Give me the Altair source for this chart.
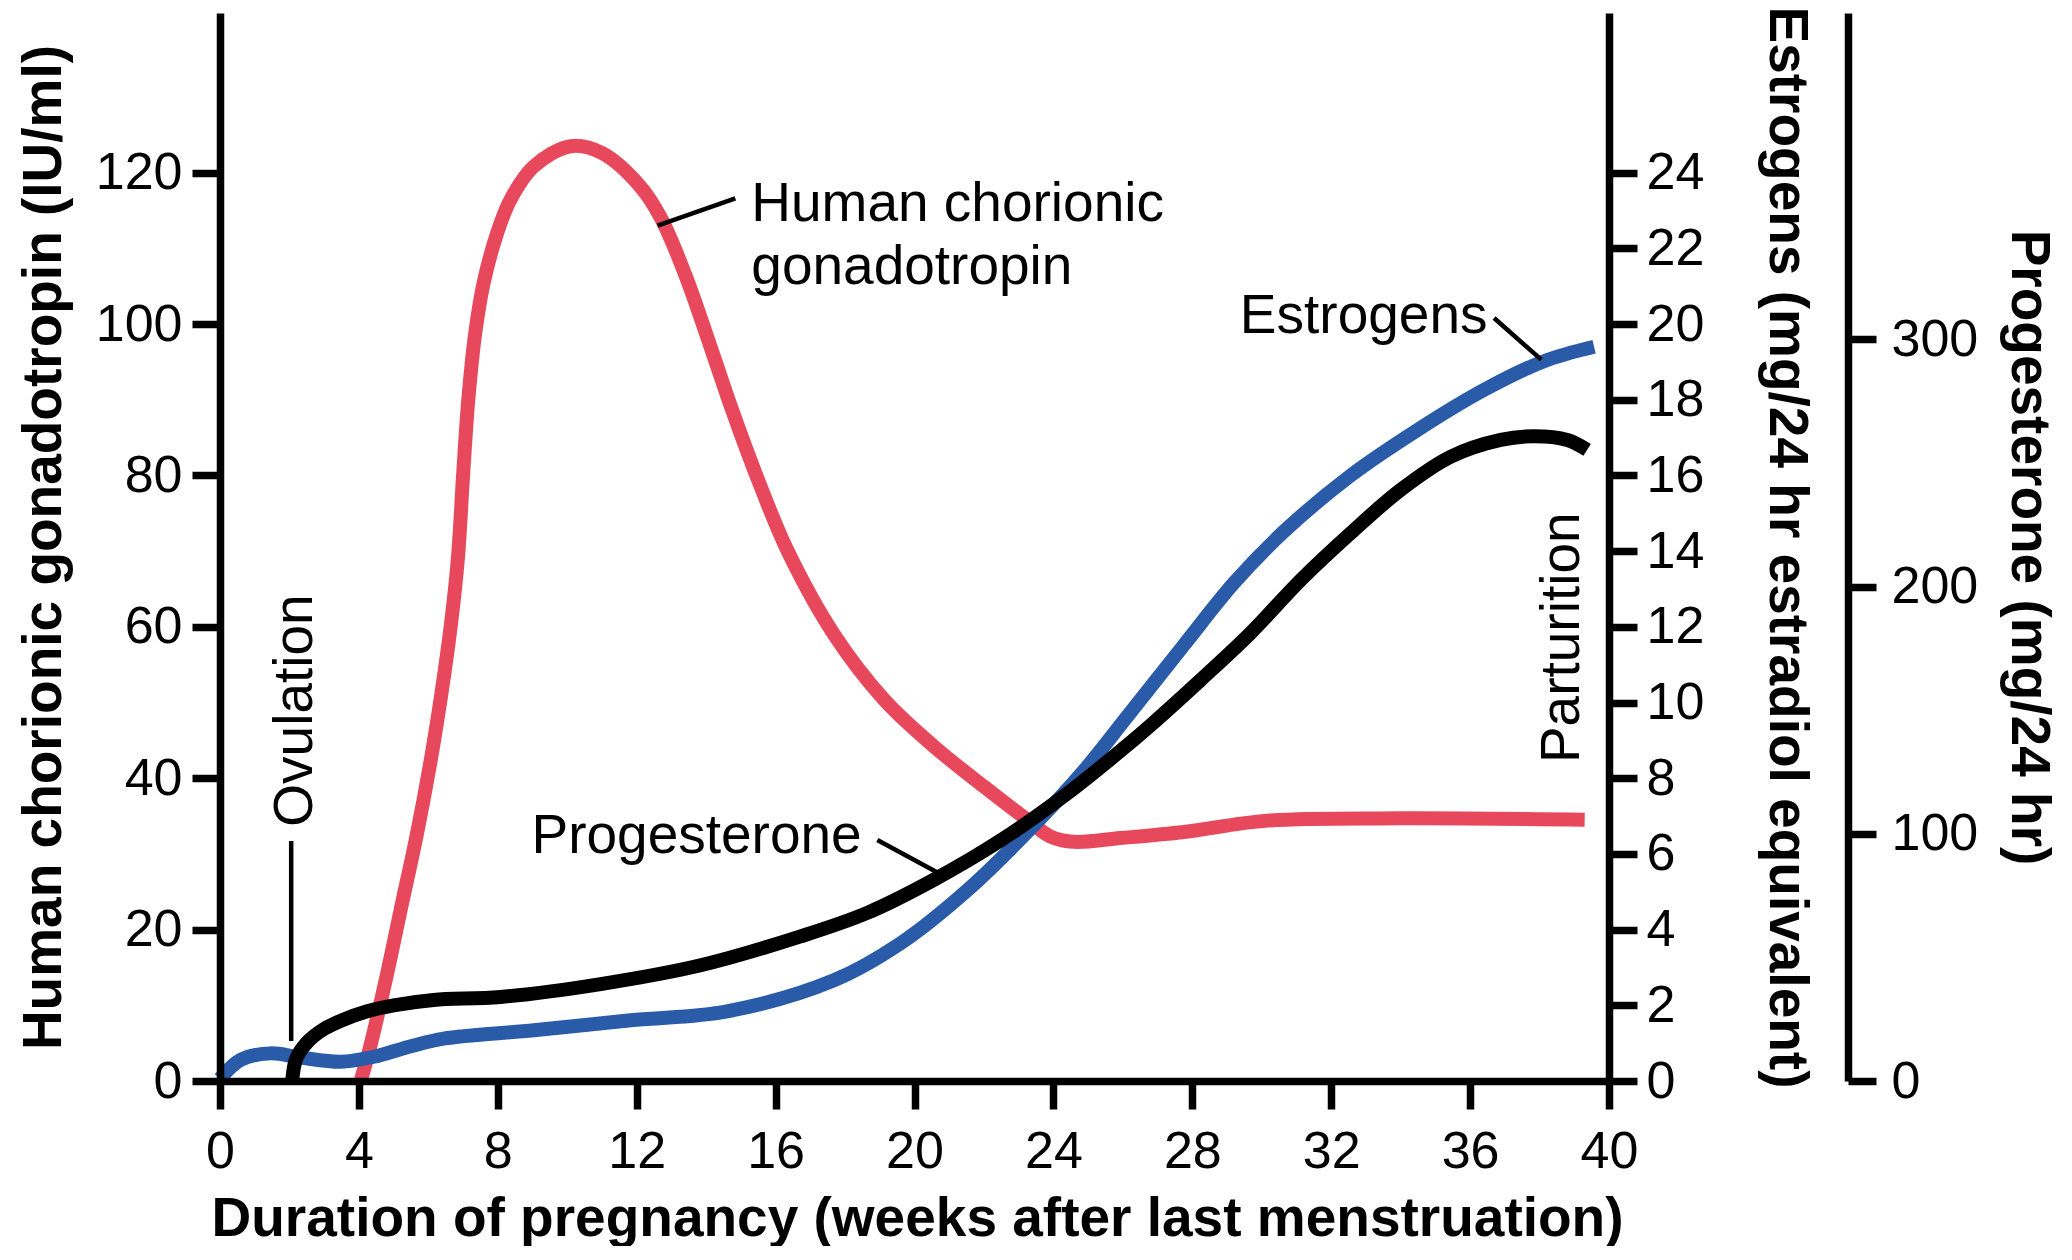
import altair as alt
import pandas as pd

# ---------------- data ----------------
# Human chorionic gonadotropin, IU/ml
hcg_weeks = [4.05, 4.3, 4.78, 5.22, 5.66, 6.05, 6.38, 6.66, 6.85, 7.0, 7.15, 7.35, 7.59,
             7.98, 8.36, 9.03, 10.1, 11.0, 12.1, 12.7, 13.4, 14.2, 14.76, 15.53, 16.35,
             17.68, 19.12, 20.56, 22.0, 23.25, 23.92, 24.59, 25.93, 27.76, 30.16, 34.0, 39.3]
hcg_values = [0, 4.1, 13.5, 23.0, 32.4, 41.9, 51.3, 60.7, 69, 80, 90, 98.8, 105.4,
              112, 116.4, 120.8, 123.5, 122.6, 118.2, 114.0, 106.5, 96.0, 88.5, 79.0, 70.0,
              59.0, 50.4, 44.2, 38.9, 34.5, 32.3, 31.6, 32.1, 32.9, 34.4, 34.7, 34.5]

# Estrogens, mg/24 hr estradiol equivalent
est_weeks = [0, 0.6, 1.45, 2.32, 3.47, 4.43, 5.5, 6.44, 9.04, 11.9, 14.6, 17.68, 19.6,
             21.52, 23.44, 24.88, 26.1, 27.76, 29.2, 30.64, 32.56, 34.48, 36.4, 38.13, 39.57]
est_values = [0.06, 0.56, 0.73, 0.62, 0.51, 0.64, 0.92, 1.12, 1.34, 1.61, 1.84, 2.66, 3.64,
              5.04, 6.76, 8.2, 9.6, 11.52, 13.16, 14.52, 16.0, 17.2, 18.26, 19.02, 19.4]

# Progesterone, mg/24 hr
prog_weeks = [2.08, 2.2, 2.55, 3.0, 3.5, 4.24, 5.0, 6.15, 8.08, 10.96, 13.84, 16.72, 18.64,
              20.56, 22.48, 24.4, 25.93, 26.8, 28.24, 29.68, 31.12, 32.56, 34.0, 35.44,
              36.88, 37.84, 38.8, 39.37]
prog_values = [0, 9.2, 16.2, 21.1, 24.5, 28.2, 30.6, 32.8, 34.0, 39.2, 46.8, 58.5, 68.0,
               81.4, 97.3, 116.3, 133.5, 143.9, 162.2, 181.2, 202.6, 221.6, 239.1, 252.5,
               259.3, 260.8, 259.3, 255.3]

week_ticks = [0, 4, 8, 12, 16, 20, 24, 28, 32, 36, 40]
hcg_ticks = [0, 20, 40, 60, 80, 100, 120]
est_ticks = [0, 2, 4, 6, 8, 10, 12, 14, 16, 18, 20, 22, 24]
prog_ticks = [0, 100, 200, 300]

# annotations (in weeks / IU/ml units)
label_text = ["Human chorionic", "gonadotropin", "Estrogens", "Progesterone"]
label_week = [15.3, 15.3, 29.37, 8.97]
label_level = [113.6, 105.3, 98.8, 30.1]

vlabel_text = ["Ovulation", "Parturition"]
vlabel_week = [2.64, 39.13]
vlabel_level = [33.6, 42.0]

leader_week = [2.05, 12.6, 36.69, 18.93]
leader_week2 = [2.05, 14.84, 38.05, 20.7]
leader_level = [5.3, 113.0, 100.8, 31.85]
leader_level2 = [31.7, 116.6, 95.3, 27.45]

HCG_MAX = 141.1
EST_MAX = 28.22
PROG_MAX = 432.0

RED = "#E8485B"
BLUE = "#2A5BA8"
FONT = "Liberation Sans"
LINE_W = 14

hcg_df = pd.DataFrame({"week": hcg_weeks, "v": hcg_values})
est_df = pd.DataFrame({"week": est_weeks, "v": est_values})
prog_df = pd.DataFrame({"week": prog_weeks, "v": prog_values})
lab_df = pd.DataFrame({"week": label_week, "v": label_level, "t": label_text})
vlab_df = pd.DataFrame({"week": vlabel_week, "v": vlabel_level, "t": vlabel_text})
lead_df = pd.DataFrame({"week": leader_week, "week2": leader_week2,
                        "v": leader_level, "v2": leader_level2})

xscale = alt.Scale(domain=[0, 40], nice=False, zero=False)
hcg_scale = alt.Scale(domain=[0, HCG_MAX], nice=False)

common_axis = dict(domainColor="black", domainWidth=7.5, tickColor="black", tickWidth=7.5,
                   tickSize=28, labelFont=FONT, labelFontSize=52, labelColor="black",
                   titleFont=FONT, titleFontSize=55, titleFontWeight="bold",
                   titleColor="black", grid=False, labelFlush=False, labelOverlap=False,
                   zindex=1)

x_axis = alt.Axis(values=week_ticks, title="Duration of pregnancy (weeks after last menstruation)",
                  labelPadding=17, titleX=697, titleY=154, titleAlign="center",
                  titleBaseline="alphabetic", titleAngle=0, **common_axis)


def xenc():
    return alt.X("week:Q", scale=xscale, axis=x_axis)


hcg_line = alt.Chart(hcg_df).mark_line(color=RED, strokeWidth=LINE_W, interpolate="catmull-rom").encode(
    x=xenc(),
    y=alt.Y("v:Q", scale=hcg_scale,
            axis=alt.Axis(orient="left", values=hcg_ticks,
                          title="Human chorionic gonadotropin (IU/ml)",
                          labelPadding=10, titleAngle=-90, titleX=-160, titleY=534,
                          titleAlign="center", titleBaseline="alphabetic", **common_axis)),
    order="week:Q",
)

est_line = alt.Chart(est_df).mark_line(color=BLUE, strokeWidth=LINE_W, interpolate="catmull-rom").encode(
    x=xenc(),
    y=alt.Y("v:Q", scale=alt.Scale(domain=[0, EST_MAX], nice=False),
            axis=alt.Axis(orient="right", values=est_ticks,
                          title="Estrogens (mg/24 hr estradiol equivalent)",
                          labelPadding=9, titleAngle=90, titleX=160, titleY=534,
                          titleAlign="center", titleBaseline="alphabetic", **common_axis)),
    order="week:Q",
)

prog_line = alt.Chart(prog_df).mark_line(color="black", strokeWidth=LINE_W, interpolate="catmull-rom").encode(
    x=xenc(),
    y=alt.Y("v:Q", scale=alt.Scale(domain=[0, PROG_MAX], nice=False),
            axis=alt.Axis(orient="right", offset=239, values=prog_ticks,
                          title="Progesterone (mg/24 hr)",
                          labelPadding=15, titleAngle=90, titleX=163, titleY=534,
                          titleAlign="center", titleBaseline="alphabetic", **common_axis)),
    order="week:Q",
)

labels = alt.Chart(lab_df).mark_text(font=FONT, fontSize=55, align="left",
                                     baseline="alphabetic", color="black").encode(
    x=xenc(),
    y=alt.Y("v:Q", scale=hcg_scale, axis=None),
    text="t:N",
)

vlabels = alt.Chart(vlab_df).mark_text(font=FONT, fontSize=55, align="left",
                                       baseline="alphabetic", angle=270, color="black").encode(
    x=xenc(),
    y=alt.Y("v:Q", scale=hcg_scale, axis=None),
    text="t:N",
)

leaders = alt.Chart(lead_df).mark_rule(color="black", strokeWidth=4.5).encode(
    x=xenc(),
    x2="week2:Q",
    y=alt.Y("v:Q", scale=hcg_scale, axis=None),
    y2="v2:Q",
)

chart = alt.layer(
    hcg_line, est_line, prog_line, labels, vlabels, leaders
).resolve_scale(y="independent").properties(
    width=1389,
    height=1068,
    autosize=alt.AutoSizeParams(type="none"),
    padding={"left": 212, "top": 5, "right": 455, "bottom": 165},
).configure_view(strokeWidth=0)

chart.save("out.html", embed_options={"renderer": "svg", "actions": False})
